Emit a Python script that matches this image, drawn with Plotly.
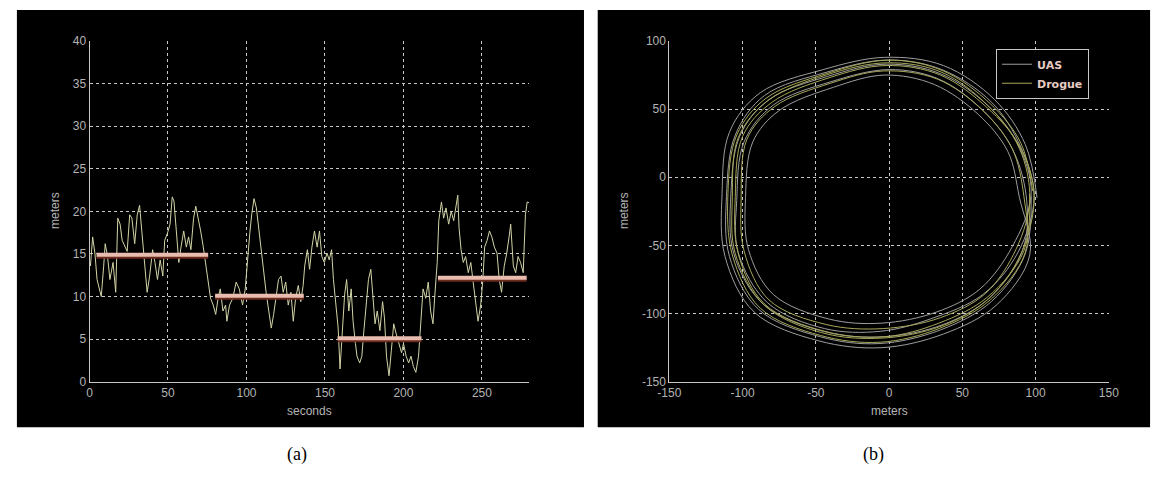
import plotly.graph_objects as go

# ---------------- data: panel (a) ----------------
time_s = [0, 0.6, 2, 3.5, 4.8, 6, 7.5, 9, 10, 11.5, 13, 15, 16.7, 18, 19.5, 20.8, 22.5, 24, 25.6, 27,
          28.8, 30.4, 31.9, 33.3, 35, 36.7, 38.3, 40.2, 41.7, 43.3, 45, 46.7, 47.9, 49.6, 51.3, 52.7, 53.8,
          55.4, 56.9, 58.3, 60, 61.7, 63.1, 64.6, 66.3, 67.7, 69.4, 70.8, 72.5, 74.2, 75.6, 77.1, 78.8,
          80.4, 81.9, 83.3, 85, 86.7, 87.5, 89.2, 91.3, 93.4, 95.4, 97.5, 99.2, 100.6, 102.1, 103.3, 104.8,
          106.3, 107.9, 109.6, 111, 112.5, 114.2, 115.8, 117.3, 118.8, 120.4, 122, 123.4, 125, 126.6, 128.3,
          129.8, 131.3, 133, 134.6, 136.1, 137.1, 138.8, 140.2, 141.7, 143.3, 145, 146.5, 148, 149.6, 151.3,
          152.7, 154.2, 155.4, 156.9, 158.4, 159.6, 161, 162.5, 163.8, 165.2, 166.7, 167.9, 169.4, 170.4,
          172.1, 173.5, 174.6, 176.3, 177.7, 179.2, 180.4, 181.9, 183.3, 185, 186.7, 187.9, 189.2, 190.8,
          192.3, 193.8, 195.4, 197.1, 198.8, 200, 201.7, 203.3, 204.8, 206.3, 207.9, 209.6, 211, 212.5,
          214.2, 215.8, 217.3, 218.8, 220, 221.5, 222.5, 224.2, 225.6, 227.1, 228.8, 230.4, 232, 233.3,
          234.6, 235.4, 236.7, 238.1, 239.6, 241.3, 242.9, 244.4, 245.8, 247.5, 249.2, 250.6, 251.7, 253.3,
          254.8, 256.3, 257.9, 259.6, 261, 262.5, 264.2, 265.8, 267.3, 268.3, 270, 271.5, 273, 274.6, 276.3,
          277.7, 278.8, 280]
separation_m = [14.0, 13.6, 17.0, 15.0, 12.0, 11.2, 10.0, 13.5, 16.2, 14.7, 12.0, 14.0, 10.5, 19.2, 18.5,
                16.6, 15.8, 15.3, 19.6, 19.2, 16.2, 19.6, 20.7, 17.7, 14.0, 10.5, 12.4, 15.5, 14.0, 12.0,
                14.3, 12.4, 16.6, 17.4, 18.5, 21.7, 21.2, 17.0, 14.0, 15.8, 17.7, 15.8, 17.0, 15.5, 19.2,
                20.6, 19.2, 17.7, 15.8, 13.6, 12.0, 9.8, 9.0, 7.9, 9.8, 10.9, 8.3, 9.0, 7.1, 9.0, 9.8, 11.7,
                10.9, 9.0, 10.9, 14.3, 17.4, 19.6, 21.5, 20.4, 17.7, 15.1, 12.8, 10.5, 8.3, 6.3, 7.9, 9.8,
                12.0, 12.4, 10.5, 11.7, 9.0, 10.5, 7.1, 9.8, 11.3, 9.4, 11.3, 13.6, 15.5, 13.2, 15.8, 17.7,
                15.8, 17.7, 14.7, 14.0, 15.1, 14.3, 15.5, 12.0, 9.0, 6.3, 1.5, 5.6, 10.2, 12.0, 8.3, 10.9,
                7.1, 4.5, 3.0, 2.2, 3.0, 5.6, 9.0, 12.0, 13.2, 10.2, 6.8, 8.3, 6.0, 9.4, 7.5, 3.0, 0.7, 3.7,
                6.8, 5.6, 4.5, 3.4, 4.5, 3.0, 2.2, 3.0, 1.8, 1.1, 3.0, 6.8, 10.9, 9.8, 11.7, 8.3, 6.8, 10.2,
                14.0, 18.9, 21.1, 19.2, 20.4, 18.5, 20.0, 18.9, 20.7, 21.9, 18.1, 15.5, 14.0, 14.7, 12.8,
                14.0, 11.7, 9.4, 7.1, 9.0, 12.0, 15.8, 16.6, 17.7, 17.0, 15.8, 15.1, 12.0, 10.5, 13.6, 15.1,
                17.0, 18.5, 13.6, 12.8, 14.7, 14.0, 12.8, 19.6, 21.1, 21.0]

seg_start = [4.5, 80, 158, 222]
seg_end = [75.6, 136.5, 211.5, 278.5]
seg_level = [14.9, 10.1, 5.1, 12.2]

# ---------------- data: panel (b) ----------------
uas_x = [101, 93, 72, 37, -3, -45, -88, -109, -114, -112, -92, -48, -5, 37, 73, 96,
         89, 81, 61, 31, -3, -38, -75, -93, -98, -96, -79, -41, -5, 32, 62, 84,
         97, 88, 67, 35, -2, -42, -82, -102, -108, -106, -86, -45, -4, 37, 69, 91,
         94, 85, 65, 34, 0, -40, -79, -99, -104, -103, -83, -44, -6, 28, 64, 88,
         99, 90, 70, 36, -1, -43, -85, -105, -111, -109, -89, -47, -7, 35, 70, 93, 97]
uas_y = [-15, 24, 57, 82, 88, 79, 62, 33, -12, -58, -99, -120, -125, -115, -94, -57,
         -15, 19, 46, 68, 75, 66, 49, 26, -15, -53, -86, -104, -107, -99, -82, -51,
         -12, 24, 53, 76, 83, 74, 57, 30, -13, -56, -93, -113, -117, -108, -88, -54,
         -18, 19, 48, 72, 79, 70, 53, 26, -17, -55, -92, -111, -113, -104, -86, -55,
         -14, 22, 55, 79, 86, 77, 60, 31, -14, -58, -97, -117, -122, -112, -91, -56, -14]
drogue_x = [98, 90, 69, 37, 0, -43, -84, -104, -110, -107, -88, -47, -6, 34, 69, 93,
            92, 84, 64, 33, -4, -40, -78, -97, -101, -99, -82, -43, -4, 35, 66, 87,
            96, 89, 68, 36, -1, -43, -83, -103, -107, -105, -85, -46, -5, 36, 68, 90,
            99, 89, 67, 35, -2, -41, -80, -100, -105, -103, -85, -44, -3, 34, 67, 92, 96]
drogue_y = [-10, 25, 54, 78, 86, 76, 58, 31, -12, -57, -96, -116, -121, -111, -90, -55,
            -14, 21, 49, 72, 78, 69, 52, 28, -16, -54, -90, -108, -111, -103, -85, -52,
            -16, 21, 52, 77, 84, 75, 56, 29, -15, -56, -94, -114, -118, -109, -89, -56,
            -13, 23, 51, 75, 82, 73, 55, 30, -14, -56, -93, -113, -117, -107, -88, -54, -12]

a_xticks = [0, 50, 100, 150, 200, 250]
a_yticks = [0, 5, 10, 15, 20, 25, 30, 35, 40]
b_xticks = [-150, -100, -50, 0, 50, 100, 150]
b_yticks = [-150, -100, -50, 0, 50, 100]

# ---------------- figure ----------------
W, H = 1164, 480
def px(x): return x / W
def py(y): return 1 - y / H

fig = go.Figure()

fig.add_trace(go.Scatter(x=time_s, y=separation_m, mode="lines",
                         line=dict(color="#d2d3a6", width=1), showlegend=False,
                         xaxis="x", yaxis="y"))
for s, e, lv in zip(seg_start, seg_end, seg_level):
    fig.add_trace(go.Scatter(x=[s, e], y=[lv - 0.3, lv - 0.3], mode="lines",
                             line=dict(color="#6a2a1c", width=3), showlegend=False,
                             xaxis="x", yaxis="y"))
    fig.add_trace(go.Scatter(x=[s, e], y=[lv, lv], mode="lines",
                             line=dict(color="#e8bcae", width=4), showlegend=False,
                             xaxis="x", yaxis="y"))

fig.add_trace(go.Scatter(x=uas_x, y=uas_y, mode="lines", name="UAS",
                         line=dict(color="#9c9c9c", width=1, shape="spline", smoothing=1.0),
                         xaxis="x2", yaxis="y2"))
fig.add_trace(go.Scatter(x=drogue_x, y=drogue_y, mode="lines", name="Drogue",
                         line=dict(color="#a6a65a", width=1, shape="spline", smoothing=1.0),
                         xaxis="x2", yaxis="y2"))

axis_common = dict(showgrid=True, gridcolor="#c8c8c8", griddash="3px,3px", gridwidth=1,
                   showline=True, linecolor="#c8c8c8", linewidth=1, zeroline=False, ticks="",
                   tickfont=dict(family="Liberation Sans", size=12, color="#b4b4b4"))

def labels(vals):
    return [str(v) for v in vals]

dom_y = [py(386), py(35)]
fig.update_layout(
    width=W, height=H, margin=dict(l=0, r=0, t=0, b=0),
    paper_bgcolor="white", plot_bgcolor="black",
    xaxis=dict(domain=[px(79), px(527)], range=[0, 280], tickvals=a_xticks,
               ticktext=labels(a_xticks), anchor="y", **axis_common),
    yaxis=dict(domain=dom_y, range=[0, 40], tickvals=a_yticks,
               ticktext=labels(a_yticks), anchor="x", **axis_common),
    xaxis2=dict(domain=[px(670), px(1118)], range=[-150, 150], tickvals=b_xticks,
                ticktext=labels(b_xticks), anchor="y2", **axis_common),
    yaxis2=dict(domain=dom_y, range=[-150, 100], tickvals=b_yticks,
                ticktext=labels(b_yticks), anchor="x2", **axis_common),
    legend=dict(x=px(1003), y=py(43), xanchor="left", yanchor="top",
                bgcolor="black", bordercolor="#c8c8c8", borderwidth=1,
                font=dict(family="DejaVu Sans", size=11, color="#e6cbc2", weight="bold"),
                tracegroupgap=0),
    shapes=[
        dict(type="rect", xref="paper", yref="paper", x0=px(5), x1=px(583), y0=py(433), y1=py(3),
             fillcolor="black", line=dict(width=0), layer="below"),
        dict(type="rect", xref="paper", yref="paper", x0=px(597), x1=px(1160), y0=py(433), y1=py(3),
             fillcolor="black", line=dict(width=0), layer="below"),
    ],
)

lab_font = dict(family="Liberation Sans", size=12, color="#b4b4b4")
def ann(text, x, y, font, angle=0):
    return dict(text=text, x=px(x), y=py(y), xref="paper", yref="paper", showarrow=False,
                xanchor="center", yanchor="middle", font=font, textangle=angle)

cap_font = dict(family="Liberation Serif", size=18, color="black")
fig.update_layout(annotations=[
    ann("seconds", 303, 416, lab_font),
    ann("meters", 44, 210, lab_font, -90),
    ann("meters", 894, 416, lab_font),
    ann("meters", 624, 210, lab_font, -90),
    ann("(a)", 290, 461, cap_font),
    ann("(b)", 878, 461, cap_font),
])

fig.write_html("out.html")
